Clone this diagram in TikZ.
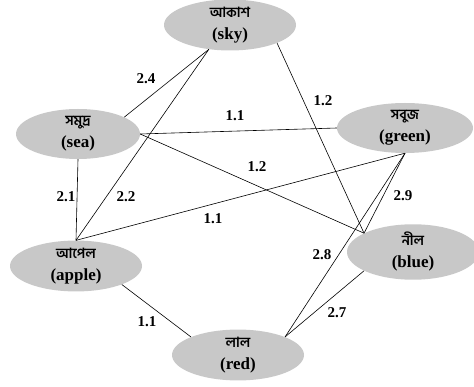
\documentclass[tikz,border=0pt]{standalone}
\usepackage{fontspec}
\setmainfont{Liberation Serif}
\newfontfamily\bn[Script=Bengali]{Hind Siliguri}
\usetikzlibrary{shapes.geometric}
\definecolor{nodegray}{RGB}{200,200,200}
\tikzset{
	word/.style={ellipse, fill=nodegray, minimum width=132pt, minimum height=50pt, inner sep=0pt, align=center, font=\fontsize{17}{21}\selectfont\bfseries},
	weight/.style={font=\fontsize{15}{18}\selectfont\bfseries, inner sep=1pt},
	link/.style={line width=0.6pt}
}
\newcommand{\bword}[1]{{\bn\fontsize{14}{14}\selectfont #1}}
\begin{document}
\begin{tikzpicture}[x=1pt, y=-1pt]
	%\draw [help lines, step=10, gray] (0,0) grid (474, 387);
	\useasboundingbox (0,0) rectangle (474,387);

	\node (sky) [word] at (230,25) {\bword{আকাশ}\\[1pt](sky)};
	\node (sea) [word, minimum width=124pt] at (78,134) {\bword{সমুদ্র}\\[1pt](sea)};
	\node (green) [word, minimum width=136pt] at (405,128) {\bword{সবুজ}\\[1pt](green)};
	\node (apple) [word] at (76,266) {\bword{আপেল}\\[1pt](apple)};
	\node (blue) [word] at (413,252) {\bword{নীল}\\[1pt](blue)};
	\node (red) [word] at (238,355) {\bword{লাল}\\[1pt](red)};

	\draw [link] (sky.229) -- (sea.20);
	\draw [link] (sky.229) -- (apple.north);
	\draw [link] (sky.339) -- (blue.159);
	\draw [link] (sea.east) -- (green.west);
	\draw [link] (sea.east) -- (blue.159);
	\draw [link] (sea.south) -- (apple.north);
	\draw [link] (apple.north) -- (green.south);
	\draw [link] (green.south) -- (blue.159);
	\draw [link] (green.south) -- (red.21);
	\draw [link] (blue.201) -- (red.21);
	\draw [link] (apple.338) -- (red.159);

	\node (w1) [weight] at (146,79) {2.4};
	\node (w2) [weight] at (126,197) {2.2};
	\node (w3) [weight] at (323,101) {1.2};
	\node (w4) [weight] at (235,116) {1.1};
	\node (w5) [weight] at (257,167) {1.2};
	\node (w6) [weight] at (66,197) {2.1};
	\node (w7) [weight] at (213,219) {1.1};
	\node (w8) [weight] at (403,196) {2.9};
	\node (w9) [weight] at (322,255) {2.8};
	\node (w10) [weight] at (337,313) {2.7};
	\node (w11) [weight] at (147,322) {1.1};
\end{tikzpicture}
\end{document}
